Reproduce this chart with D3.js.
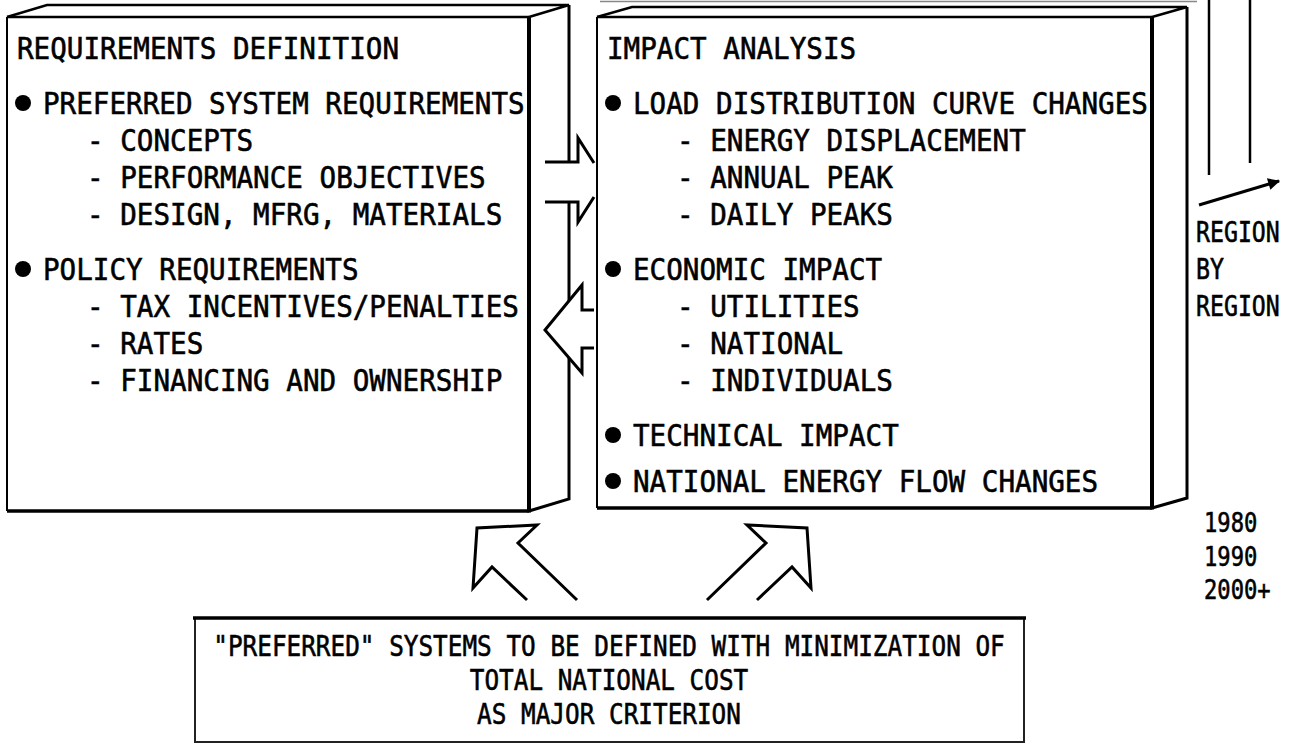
<!DOCTYPE html>
<html>
<head>
<meta charset="utf-8">
<script src="https://cdn.jsdelivr.net/npm/d3@7"></script>
<style>
  html, body { margin: 0; padding: 0; background: #fff; }
  svg { display: block; }
  text { font-family: "DejaVu Sans Mono", "Liberation Mono", monospace; fill: #000; stroke: #000; stroke-width: 0.6px; }
</style>
</head>
<body>
<script>
// ---------------- content ----------------
const leftLines = [
  "REQUIREMENTS DEFINITION",
  "PREFERRED SYSTEM REQUIREMENTS",
  "- CONCEPTS",
  "- PERFORMANCE OBJECTIVES",
  "- DESIGN, MFRG, MATERIALS",
  "POLICY REQUIREMENTS",
  "- TAX INCENTIVES/PENALTIES",
  "- RATES",
  "- FINANCING AND OWNERSHIP"
];
const leftLevels = [0, 1, 2, 2, 2, 1, 2, 2, 2];

const rightLines = [
  "IMPACT ANALYSIS",
  "LOAD DISTRIBUTION CURVE CHANGES",
  "- ENERGY DISPLACEMENT",
  "- ANNUAL PEAK",
  "- DAILY PEAKS",
  "ECONOMIC IMPACT",
  "- UTILITIES",
  "- NATIONAL",
  "- INDIVIDUALS",
  "TECHNICAL IMPACT",
  "NATIONAL ENERGY FLOW CHANGES"
];
const rightLevels = [0, 1, 2, 2, 2, 1, 2, 2, 2, 1, 1];

const regionLabels = ["REGION", "BY", "REGION"];
const yearLabels = ["1980", "1990", "2000+"];
const bottomLines = [
  "\"PREFERRED\" SYSTEMS TO BE DEFINED WITH MINIMIZATION OF",
  "TOTAL NATIONAL COST",
  "AS MAJOR CRITERION"
];

// ---------------- layout ----------------
const W = 1305, H = 749;
const svg = d3.select("body").append("svg").attr("width", W).attr("height", H);
const ink = "#000";

const box1 = {x0: 7, y0: 17, x1: 529, y1: 511, dx: 40, dy: -12};
const box2 = {x0: 597, y0: 17, x1: 1152, y1: 508, dx: 35, dy: -10};

const line = d3.line();

function seg(pts, w, color) {
  svg.append("path").attr("d", line(pts)).attr("fill", "none")
    .attr("stroke", color || ink).attr("stroke-width", w)
    .attr("stroke-linejoin", "miter").attr("stroke-linecap", "butt");
}

function backFaces(b) {
  seg([[b.x0, b.y0], [b.x0 + b.dx, b.y0 + b.dy], [b.x1 + b.dx, b.y0 + b.dy], [b.x1, b.y0]], 2.5);
  seg([[b.x1 + b.dx, b.y0 + b.dy], [b.x1 + b.dx, b.y1 + b.dy], [b.x1, b.y1]], 3);
}
function frontFace(b) {
  svg.append("rect").attr("x", b.x0).attr("y", b.y0)
    .attr("width", b.x1 - b.x0).attr("height", b.y1 - b.y0).attr("fill", "#fff");
  seg([[b.x0, b.y0], [b.x0, b.y1]], 2);
  seg([[b.x0, b.y0], [b.x1, b.y0]], 2.5);
  seg([[b.x1, b.y0 - 1], [b.x1, b.y1 + 1.5]], 4);
  seg([[b.x0, b.y1], [b.x1, b.y1]], 3.5);
}

function rowYs(levels) {
  const ys = [];
  let y = 48;
  levels.forEach((l, i) => {
    if (i > 0) {
      const prev = levels[i - 1];
      y += (l === 2) ? 37 : (prev === 1 ? 46 : 55);
    }
    ys.push(y);
  });
  return ys;
}

const FS = 30, SX = 0.92;
function txt(g, str, x, y, size, sx, anchor) {
  g.append("text")
    .attr("transform", `translate(${x},${y}) scale(${sx},1)`)
    .attr("font-size", size)
    .attr("text-anchor", anchor || "start")
    .text(str);
}

function boxText(b, lines, levels) {
  const g = svg.append("g");
  const ys = rowYs(levels);
  const indent = d3.scaleOrdinal().domain([0, 1, 2]).range([10, 36, 80]);
  lines.forEach((s, i) => {
    const lv = levels[i];
    const base = ys[i] + 11;
    if (lv === 1) {
      g.append("circle").attr("cx", b.x0 + 16).attr("cy", ys[i]).attr("r", 8).attr("fill", ink);
    }
    txt(g, s, b.x0 + indent(lv), base, FS, SX);
  });
}

// faint top edge of the stacked boxes behind
seg([[600, 1.5], [1197, 1.5]], 1.5, "#888");

// ---- box 1 ----
backFaces(box1);
frontFace(box1);
boxText(box1, leftLines, leftLevels);

// ---- arrows between the boxes ----
const arrowR = [[545, 162], [578, 162], [578, 138], [605, 182], [578, 226], [578, 202], [545, 202]];
svg.append("path").attr("d", line(arrowR) + "Z").attr("fill", "#fff");
seg([[545, 162], [578, 162], [578, 138], [594, 163]], 3);
seg([[545, 202], [578, 202], [578, 222], [594, 197]], 3);

const arrowL = [[594, 310], [582, 310], [582, 285], [545, 330], [582, 373], [582, 348], [594, 348]];
svg.append("path").attr("d", line(arrowL)).attr("fill", "#fff");
seg(arrowL, 3);

// ---- box 2 ----
backFaces(box2);
frontFace(box2);
boxText(box2, rightLines, rightLevels);

// ---- region by region ----
seg([[1209, 0], [1209, 175]], 2.5);
seg([[1250, 0], [1250, 163]], 2.5);
svg.append("defs").append("marker")
  .attr("id", "ah").attr("viewBox", "0 0 10 10").attr("refX", 9).attr("refY", 5)
  .attr("markerWidth", 6).attr("markerHeight", 4).attr("orient", "auto")
  .attr("markerUnits", "strokeWidth")
  .append("path").attr("d", "M0,0 L10,5 L0,10 Z").attr("fill", ink);
svg.append("path").attr("d", line([[1199, 205], [1279, 181]]))
  .attr("stroke", ink).attr("stroke-width", 3).attr("marker-end", "url(#ah)");

const gR = svg.append("g");
const yR = d3.scalePoint().domain(d3.range(regionLabels.length)).range([242, 316]);
regionLabels.forEach((s, i) => txt(gR, s, 1196, yR(i), 29, 0.8));

const gY = svg.append("g");
const yY = d3.scalePoint().domain(d3.range(yearLabels.length)).range([532, 599]);
yearLabels.forEach((s, i) => txt(gY, s, 1204, yY(i), 27, 0.82));

// ---- bottom up-arrows ----
const upArrow = [[527, 600], [492, 567], [473, 588], [477, 528], [537, 525], [518, 543], [577, 600]];
seg(upArrow, 3);
seg(upArrow.map(p => [1284 - p[0], p[1]]), 3);

// ---- bottom box ----
const bb = {x0: 195, y0: 618, x1: 1024, y1: 742};
seg([[bb.x0, bb.y0], [bb.x0, bb.y1], [bb.x1, bb.y1], [bb.x1, bb.y0]], 2, "#222");
seg([[bb.x0 - 2, bb.y0], [bb.x1 + 2, bb.y0]], 3.5);
const gB = svg.append("g");
const yB = d3.scalePoint().domain(d3.range(bottomLines.length)).range([656, 724]);
bottomLines.forEach((s, i) => txt(gB, s, 609, yB(i), 29, 0.84, "middle"));
</script>
</body>
</html>
